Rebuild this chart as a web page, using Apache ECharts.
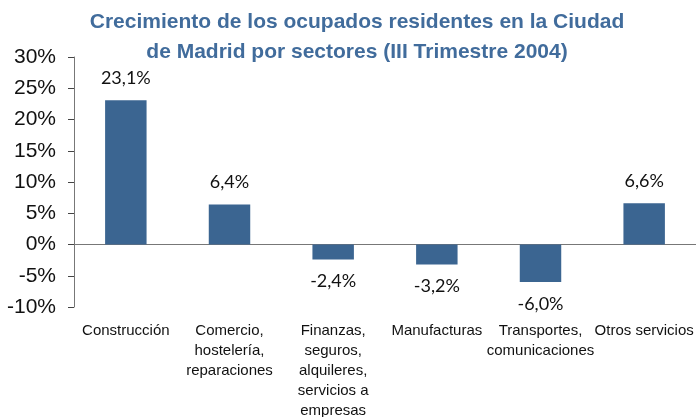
<!DOCTYPE html>
<html>
<head>
<meta charset="utf-8">
<script src="https://cdn.jsdelivr.net/npm/echarts@6/dist/echarts.min.js"></script>
<style>
  html, body { margin: 0; padding: 0; background: #fff; }
</style>
</head>
<body>
<div id="crecimiento" style="width: 696px; height: 417px;"></div>
<script>
const sectores = [
  'Construcción',
  'Comercio,\nhostelería,\nreparaciones',
  'Finanzas,\nseguros,\nalquileres,\nservicios a\nempresas',
  'Manufacturas',
  'Transportes,\ncomunicaciones',
  'Otros servicios'
];
const crecimiento = [23.1, 6.4, -2.4, -3.2, -6.0, 6.6];

let chart = echarts.init(document.getElementById('crecimiento'));
let options = {
  animation: false,
  title: {
    text: 'Crecimiento de los ocupados residentes en la Ciudad\nde Madrid por sectores (III Trimestre 2004)',
    left: 352,
    top: 2,
    textAlign: 'center',
    textStyle: {
      fontFamily: 'Liberation Sans',
      fontSize: 21,
      fontWeight: 'bold',
      color: '#416c9c',
      lineHeight: 30
    }
  },
  grid: {
    left: 74,
    right: 0,
    top: 57,
    bottom: 110,
    outerBoundsMode: 'none'
  },
  xAxis: [
    {
      // linea del cero con las marcas
      type: 'category',
      data: sectores,
      position: 'top',
      axisLine: { onZero: true, lineStyle: { color: '#777', width: 1 } },
      axisTick: { inside: true, length: 5, lineStyle: { color: '#444' } },
      axisLabel: { show: false }
    },
    {
      // etiquetas abajo
      type: 'category',
      data: sectores,
      position: 'bottom',
      axisLine: { show: false, onZero: false },
      axisTick: { show: false },
      axisLabel: {
        interval: 0,
        margin: 14,
        fontFamily: 'Liberation Sans',
        fontSize: 15,
        lineHeight: 20,
        color: '#111'
      }
    }
  ],
  yAxis: {
    type: 'value',
    min: -10,
    max: 30,
    interval: 5,
    splitLine: { show: false },
    axisLine: { show: true, lineStyle: { color: '#777' } },
    axisTick: { show: true, length: 6, lineStyle: { color: '#444' } },
    axisLabel: {
      formatter: '{value}%',
      margin: 18,
      fontFamily: 'Liberation Sans',
      fontSize: 21,
      color: '#111'
    }
  },
  series: [
    {
      type: 'bar',
      xAxisIndex: 0,
      barWidth: '40%',
      itemStyle: { color: '#3b6591' },
      label: {
        show: true,
        distance: 13,
        fontFamily: 'Lato',
        fontSize: 18,
        color: '#111',
        formatter: function (p) {
          return p.value.toFixed(1).replace('.', ',') + '%';
        },
        position: 'top'
      },
      // etiquetas debajo para valores negativos
      data: crecimiento.map(function (v) {
        return v < 0 ? { value: v, label: { position: 'bottom' } } : v;
      })
    }
  ]
};
chart.setOption(options);
window.addEventListener('resize', function () {
  chart.resize();
});
</script>
</body>
</html>
